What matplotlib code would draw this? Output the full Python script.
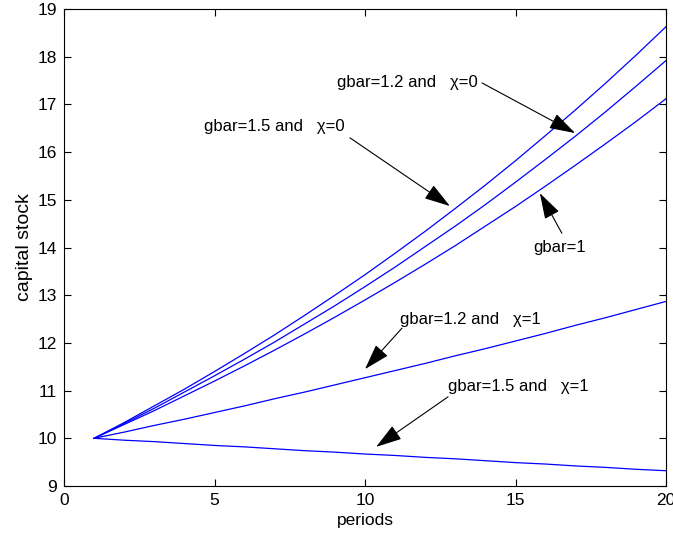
import numpy as np
import matplotlib.pyplot as plt

plt.rcParams['font.family'] = ['Liberation Sans', 'DejaVu Sans']

# capital stock paths, periods 1..20
periods = list(range(1, 21))
k_g15_c0 = [10.00, 10.33, 10.68, 11.03, 11.40, 11.78, 12.17, 12.58, 13.00, 13.43,
            13.88, 14.34, 14.82, 15.31, 15.82, 16.35, 16.89, 17.45, 18.03, 18.63]
k_g12_c0 = [10.00, 10.31, 10.63, 10.97, 11.31, 11.66, 12.02, 12.40, 12.78, 13.18,
            13.59, 14.02, 14.45, 14.90, 15.37, 15.85, 16.34, 16.85, 17.38, 17.92]
k_g1 = [10.00, 10.29, 10.58, 10.89, 11.20, 11.52, 11.85, 12.19, 12.54, 12.90,
        13.27, 13.65, 14.04, 14.45, 14.86, 15.29, 15.73, 16.18, 16.64, 17.12]
k_g12_c1 = [10.00, 10.13, 10.27, 10.40, 10.54, 10.68, 10.83, 10.97, 11.12, 11.27,
            11.42, 11.57, 11.73, 11.88, 12.04, 12.20, 12.37, 12.53, 12.70, 12.87]
k_g15_c1 = [10.00, 9.96, 9.93, 9.89, 9.85, 9.82, 9.78, 9.74, 9.71, 9.67,
            9.64, 9.60, 9.57, 9.53, 9.49, 9.46, 9.42, 9.39, 9.35, 9.32]

fig = plt.figure(figsize=(6.73, 5.33), dpi=100)
ax = fig.add_axes([0.0951, 0.0882, 0.8945, 0.8948])

for k in [k_g15_c0, k_g12_c0, k_g1, k_g12_c1, k_g15_c1]:
    ax.plot(periods, k, color='#0000ff', lw=0.9)

ax.set_xlim(0, 20)
ax.set_ylim(9, 19)
ax.set_xticks([0, 5, 10, 15, 20])
ax.set_yticks(range(9, 20))
ax.tick_params(direction='in', top=True, right=True, labelsize=12.5, length=5,
               width=0.8, pad=5)
for s in ax.spines.values():
    s.set_linewidth(0.8)
ax.set_xlabel('periods', fontsize=12.5, labelpad=4)
ax.set_ylabel('capital stock', fontsize=14, labelpad=3)

# labels and arrows: (text, text pos, arrow start, arrow tip)
notes = [
    ('gbar=1.2 and   \u03c7=0', (9.07, 17.45), (13.89, 17.45), (16.98, 16.40)),
    ('gbar=1.5 and   \u03c7=0', (4.65, 16.53), (9.50, 16.30), (12.82, 14.87)),
    ('gbar=1', (15.58, 14.01), (16.54, 14.30), (15.81, 15.14)),
    ('gbar=1.2 and   \u03c7=1', (11.16, 12.50), (11.23, 12.31), (10.00, 11.45)),
    ('gbar=1.5 and   \u03c7=1', (12.76, 11.08), (12.76, 10.87), (10.37, 9.82)),
]
for txt, tpos, start, tip in notes:
    ax.text(tpos[0], tpos[1], txt, fontsize=12, va='center', ha='left')
    ax.annotate('', xy=tip, xytext=start,
                arrowprops=dict(arrowstyle='-|>,head_length=0.9,head_width=0.28',
                                mutation_scale=18, color='k', lw=0.8,
                                shrinkA=0, shrinkB=0))

fig.savefig('out.png', dpi=100)
